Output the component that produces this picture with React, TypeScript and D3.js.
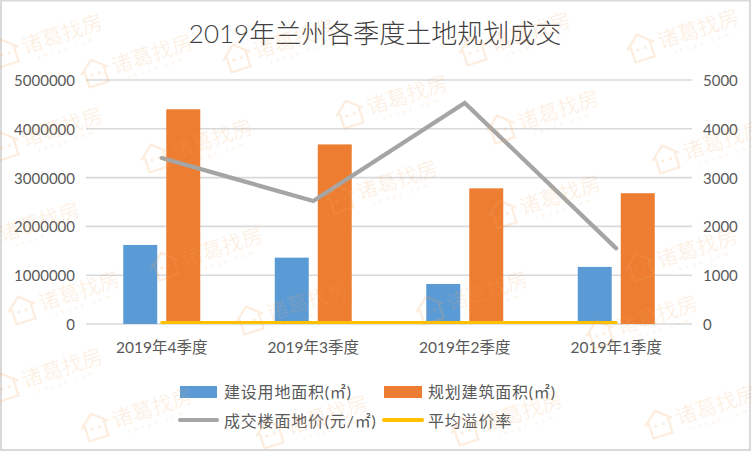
import React from "react";
import * as d3 from "d3";

const W = 752, H = 452;
const categories = ["2019年4季度", "2019年3季度", "2019年2季度", "2019年1季度"];
const landArea = [1620000, 1360000, 820000, 1170000];
const buildArea = [4400000, 3680000, 2780000, 2680000];
const floorPrice = [3400, 2520, 4530, 1550];
const premiumRate = [30, 30, 30, 30];
const leftTicks = [0, 1000000, 2000000, 3000000, 4000000, 5000000];
const rightTicks = [0, 1000, 2000, 3000, 4000, 5000];
const barSeries = ["建设用地面积(㎡)", "规划建筑面积(㎡)"];
const lineSeries = ["成交楼面地价(元/㎡)", "平均溢价率"];
const title = "2019年兰州各季度土地规划成交";
const watermarks: [number, number][] = [
  [5, 52], [95, 72], [237, 57], [473, 50], [641, 47],
  [350, 113], [155, 157], [5, 145], [501, 128], [666, 158],
  [-18, 240], [340, 198], [503, 213], [165, 265], [640, 266],
  [22, 309], [250, 319], [430, 309], [600, 333],
  [5, 386], [95, 426], [270, 433], [465, 430], [659, 423],
];

const font = "Lato, 'Noto Sans CJK SC', sans-serif";
const textCol = "#595959";
const colors = { blue: "#5b9bd5", orange: "#ed7d31", gray: "#a5a5a5", yellow: "#ffc000", grid: "#d9d9d9" };

function Watermark({ x, y }: { x: number; y: number }) {
  const c = "#f7a860";
  return (
    <g transform={`translate(${x},${y}) rotate(-18)`} opacity={0.2} fontFamily="'Noto Sans CJK SC', sans-serif">
      <path d="M-14,-1 L0,-13 L14,-1 M-10,-3 V13 H10 V-3" fill="none" stroke={c} strokeWidth={2.2} />
      <circle cx={-4} cy={2} r={1.5} fill={c} />
      <circle cx={4} cy={2} r={1.5} fill={c} />
      <text x={18} y={8} fontSize={21} fill={c} fontWeight={300}>诸葛找房</text>
      <text x={30} y={17} fontSize={5} fill={c} letterSpacing={4}>zhuge.com</text>
    </g>
  );
}

export default function App() {
  const x0 = d3.scaleBand<string>().domain(categories).range([86, 692]);
  const x1 = d3.scaleBand<string>().domain(barSeries).range([0, x0.bandwidth()]).paddingInner(0.21).paddingOuter(0.866);
  const yL = d3.scaleLinear().domain([0, 5000000]).range([324, 80]);
  const yR = d3.scaleLinear().domain([0, 5000]).range([324, 80]);
  const cx = (c: string) => x0(c)! + x0.bandwidth() / 2;
  const line = d3.line<number>().x((_, i) => cx(categories[i])).y((d) => yR(d));
  const bars = [
    { key: barSeries[0], values: landArea, color: colors.blue },
    { key: barSeries[1], values: buildArea, color: colors.orange },
  ];
  return (
    <svg width={W} height={H} viewBox={`0 0 ${W} ${H}`} style={{ position: "fixed", left: 0, top: 0, background: "#fff" }} fontFamily={font}>
      <rect x={1} y={0.5} width={W - 3} height={H - 2.5} fill="#fff" stroke="#d9d9d9" strokeWidth={2} />
      <text x={375} y={43} textAnchor="middle" fontSize={26} fontWeight={300} fill="#404040">{title}</text>
      {leftTicks.map((t) => (
        <g key={t}>
          <line x1={86} x2={692} y1={yL(t)} y2={yL(t)} stroke={colors.grid} strokeWidth={1.6} />
          <text x={75} y={yL(t) + 6} textAnchor="end" fontSize={15} fill={textCol}>{t}</text>
        </g>
      ))}
      {rightTicks.map((t) => (
        <text key={t} x={703} y={yR(t) + 6} fontSize={15} fill={textCol}>{t}</text>
      ))}
      {bars.map((s) =>
        s.values.map((v, i) => (
          <rect key={s.key + i} x={x0(categories[i])! + x1(s.key)!} y={yL(v)} width={x1.bandwidth()} height={yL(0) - yL(v)} fill={s.color} />
        ))
      )}
      <path d={line(floorPrice)!} fill="none" stroke={colors.gray} strokeWidth={4.2} strokeLinecap="round" strokeLinejoin="miter" />
      <path d={line(premiumRate)!} fill="none" stroke={colors.yellow} strokeWidth={3} strokeLinecap="round" />
      {categories.map((c) => (
        <text key={c} x={cx(c)} y={353} textAnchor="middle" fontSize={15.5} fill={textCol}>{c}</text>
      ))}
      <g fontSize={16} fill={textCol} letterSpacing={0.8}>
        <rect x={180} y={386} width={37} height={12} fill={colors.blue} />
        <text x={224} y={398}>{barSeries[0]}</text>
        <rect x={384} y={386} width={38} height={12} fill={colors.orange} />
        <text x={428} y={398}>{barSeries[1]}</text>
        <line x1={180} x2={217} y1={420} y2={420} stroke={colors.gray} strokeWidth={4.2} strokeLinecap="round" />
        <text x={224} y={427}>{lineSeries[0]}</text>
        <line x1={384} x2={422} y1={420} y2={420} stroke={colors.yellow} strokeWidth={4.2} strokeLinecap="round" />
        <text x={428} y={427}>{lineSeries[1]}</text>
      </g>
      {watermarks.map(([x, y], i) => <Watermark key={i} x={x} y={y} />)}
    </svg>
  );
}
